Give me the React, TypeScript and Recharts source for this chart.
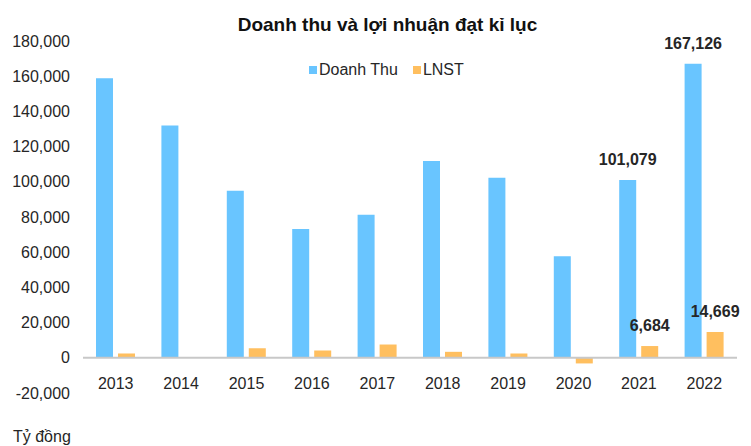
import { Bar, BarChart, LabelList, Legend, ReferenceLine, XAxis, YAxis } from 'recharts'

const years = ['2013', '2014', '2015', '2016', '2017', '2018', '2019', '2020', '2021', '2022']
const doanhThu = [158900, 132000, 94900, 73200, 81300, 111800, 102300, 57650, 101079, 167126]
const lnst = [2450, 0, 5450, 4150, 7550, 3400, 2450, -3200, 6684, 14669]
const labeledYears = ['2021', '2022']
const yTicks = [-20000, 0, 20000, 40000, 60000, 80000, 100000, 120000, 140000, 160000, 180000]

const data = years.map((year, i) => {
  const show = labeledYears.includes(year)
  return {
    year,
    doanhThu: doanhThu[i],
    lnst: lnst[i],
    doanhThuLabel: show ? doanhThu[i] : null,
    lnstLabel: show ? lnst[i] : null,
  }
})

const FONT = '"Liberation Sans", Arial, sans-serif'
const BLUE = '#69C5FF'
const ORANGE = '#FFBF5F'
const TEXT = '#262626'

const fmt = (v: number) => v.toLocaleString('en-US')

function XTick({ x, y, payload }: any) {
  return (
    <text x={x} y={y - 4.5} textAnchor="middle" fontSize={16} fontFamily={FONT} fill={TEXT}>
      {payload.value}
    </text>
  )
}

// only draws where the label field has a value
function TopLabel(props: any) {
  const { x, y, width, value } = props
  if (value == null) return null
  return (
    <text
      x={x + width / 2}
      y={y - 15}
      textAnchor="middle"
      fontSize={16}
      fontWeight="bold"
      fontFamily={FONT}
      fill={TEXT}
    >
      {fmt(value)}
    </text>
  )
}

function LegendContent() {
  const items = [
    { name: 'Doanh Thu', color: BLUE },
    { name: 'LNST', color: ORANGE },
  ]
  return (
    <div style={{ display: 'flex', alignItems: 'center', fontFamily: FONT, fontSize: 16, color: TEXT, lineHeight: '18px' }}>
      {items.map((it) => (
        <div key={it.name} style={{ display: 'flex', alignItems: 'center', marginRight: 15 }}>
          <span style={{ width: 8, height: 8, background: it.color, marginRight: 2, display: 'inline-block' }} />
          <span>{it.name}</span>
        </div>
      ))}
    </div>
  )
}

export default function App() {
  return (
    <div style={{ position: 'absolute', left: 0, top: 0, width: 751, height: 446, background: '#fff' }}>
      <BarChart
        width={751}
        height={446}
        data={data}
        margin={{ top: 41, right: 14, left: 0, bottom: 23 }}
        barSize={17}
        barGap={5}
      >
        <XAxis
          dataKey="year"
          axisLine={false}
          tickLine={false}
          tickSize={0}
          tickMargin={0}
          height={30}
          interval={0}
          tick={<XTick />}
        />
        <YAxis
          domain={[-20000, 180000]}
          ticks={yTicks}
          axisLine={false}
          tickLine={false}
          tickSize={0}
          tickMargin={13}
          width={83}
          tickFormatter={fmt}
          tick={{ fontSize: 16, fontFamily: FONT, fill: TEXT }}
        />
        <Legend
          layout="horizontal"
          verticalAlign="middle"
          align="center"
          wrapperStyle={{ left: 309, top: 61, width: 'auto' }}
          content={<LegendContent />}
        />
        <ReferenceLine y={0} stroke="#c8c8c8" strokeWidth={2} />
        <Bar dataKey="doanhThu" name="Doanh Thu" fill={BLUE} isAnimationActive={false}>
          <LabelList dataKey="doanhThuLabel" content={<TopLabel />} />
        </Bar>
        <Bar dataKey="lnst" name="LNST" fill={ORANGE} isAnimationActive={false}>
          <LabelList dataKey="lnstLabel" content={<TopLabel />} />
        </Bar>
      </BarChart>
      <svg width={751} height={446} style={{ position: 'absolute', left: 0, top: 0, pointerEvents: 'none' }}>
        <text x={387.5} y={30.7} textAnchor="middle" fontSize={19} fontWeight="bold" fontFamily={FONT} fill="#111">
          Doanh thu và lợi nhuận đạt kỉ lục
        </text>
        <text x={13} y={442} fontSize={16} fontFamily={FONT} fill={TEXT}>
          Tỷ đồng
        </text>
      </svg>
    </div>
  )
}
